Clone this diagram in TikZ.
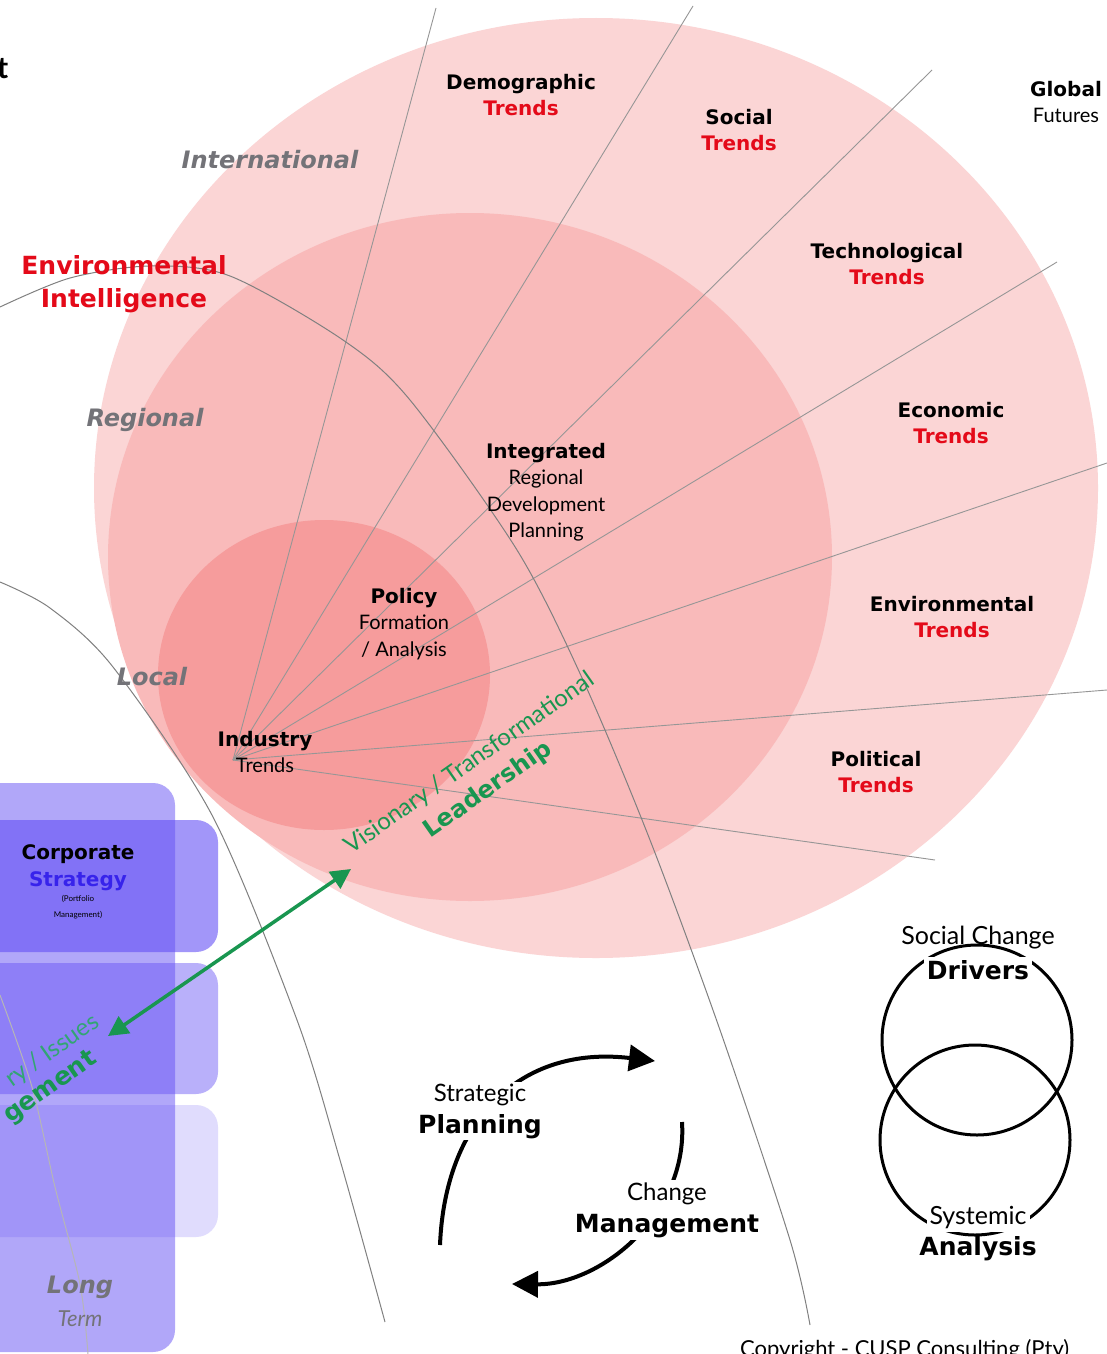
\documentclass[tikz,border=0pt]{standalone}
\usepackage{fontspec}
\setmainfont{Lato}
\newfontfamily\hf{DejaVu Sans}[BoldFont={DejaVu Sans Bold}, ItalicFont={DejaVu Sans Oblique}, BoldItalicFont={DejaVu Sans Bold Oblique}]
\newcommand\hbold[2]{{\fontsize{#1}{26.5}\selectfont\hf\bfseries #2}}
\usetikzlibrary{arrows.meta}
\definecolor{ringA}{RGB}{251,213,213}
\definecolor{ringB}{RGB}{249,186,186}
\definecolor{ringC}{RGB}{246,156,156}
\definecolor{tred}{RGB}{228,10,25}
\definecolor{labgray}{RGB}{115,115,120}
\definecolor{lgreen}{RGB}{25,150,80}
\definecolor{tgreen}{RGB}{50,165,115}
\definecolor{boxblue}{RGB}{100,80,245}
\definecolor{sblue}{RGB}{55,35,235}
\definecolor{rayc}{RGB}{150,150,150}
\begin{document}
\begin{tikzpicture}[x=1pt,y=-1pt,
  ray/.style={draw=rayc, line width=0.9pt},
  arcl/.style={draw=rayc!85!black, line width=1pt},
  hd/.style={font=\hf\fontsize{20}{26.5}\selectfont\bfseries, align=center, inner sep=0pt},
  rg/.style={font=\fontsize{20}{26.5}\selectfont, align=center, inner sep=0pt},
  lab/.style={font=\hf\fontsize{24}{30}\selectfont\bfseries\itshape, text=labgray, inner sep=0pt},
  big/.style={font=\fontsize{24}{32}\selectfont, align=center, fill=white, inner sep=2pt},
  cyc/.style={draw=black, line width=4pt, -{Triangle[length=26pt,width=26pt]}},
  venn/.style={draw=black, line width=3pt},
  gtext/.style={rotate=35, text=lgreen, inner sep=0pt}
]
\useasboundingbox (0,0) rectangle (1107,1354);
\fill[white] (0,0) rectangle (1107,1354);
% rings
\fill[ringA] (596,488) ellipse [x radius=502, y radius=470];
\fill[ringB] (470,557) ellipse [x radius=362, y radius=344];
\fill[ringC] (324,675) ellipse [x radius=166, y radius=155];
% rays
\coordinate (o) at (233,760);
\coordinate (r1) at (436,8);
\coordinate (r2) at (693,6);
\coordinate (r3) at (932,70);
\coordinate (r4) at (1057,262);
\coordinate (r5) at (1107,463);
\coordinate (r6) at (1107,690);
\coordinate (r7) at (935,860);
\foreach \r in {r1,r2,r3,r4,r5,r6,r7} \draw[ray] (o) -- (\r);
% arcs
\draw[arcl] plot[smooth] coordinates {(0,307) (70,278) (150,266) (230,276) (343,340) (410,400) (517,550) (583,680) (650,840) (720,1030) (790,1240) (810,1325)};
\draw[arcl] plot[smooth] coordinates {(0,582) (50,608) (113,667) (213,817) (297,1020) (340,1160) (385,1322)};
% blue boxes
\fill[boxblue, fill opacity=0.5, rounded corners=22pt] (-40,783) rectangle (175,1352);
\fill[boxblue, fill opacity=0.6, rounded corners=22pt] (-40,820) rectangle (218,952);
\fill[boxblue, fill opacity=0.45, rounded corners=22pt] (-40,963) rectangle (218,1094);
\fill[boxblue, fill opacity=0.2, rounded corners=22pt] (-40,1105) rectangle (218,1237);
\draw[rayc!70, line width=1pt] plot[smooth] coordinates {(0,995) (32,1087) (55,1187) (80,1284) (88,1354)};
% green arrow
\coordinate (ga) at (108,1036);
\coordinate (gb) at (351,869);
\draw[lgreen, line width=3.5pt, {Triangle[length=20pt,width=20pt]}-{Triangle[length=20pt,width=20pt]}] (ga) -- (gb);
% title fragment
\node[font=\fontsize{30}{30}\selectfont\bfseries, anchor=base west, inner sep=0pt] (tt) at (-3,78) {t};
% trend labels
\node[hd] (dem) at (521,95) {Demographic\\\textcolor{tred}{Trends}};
\node[hd] (soc) at (739,130) {Social\\\textcolor{tred}{Trends}};
\node[hd] (tec) at (887,264) {Technological\\\textcolor{tred}{Trends}};
\node[hd] (eco) at (951,423) {Economic\\\textcolor{tred}{Trends}};
\node[hd] (env) at (952,617) {Environmental\\\textcolor{tred}{Trends}};
\node[hd] (pol) at (876,772) {Political\\\textcolor{tred}{Trends}};
\node[rg] (glo) at (1066,102) {\hbold{20}{Global}\\Futures};
% level labels
\node[lab] (intl) at (270,160) {International};
\node[lab] (regl) at (145,420) {Regional};
\node[lab] (locl) at (152,677) {Local};
\node[font=\hf\fontsize{25}{33}\selectfont\bfseries, text=tred, align=center, inner sep=0pt] (ei) at (124,284) {Environmental\\Intelligence};
% inner labels
\node[rg] (irdp) at (546,492) {\hbold{20}{Integrated}\\Regional\\Development\\Planning};
\node[rg] (pfa) at (404,624) {\hbold{20}{Policy}\\Formation\\/ Analysis};
\node[rg] (ind) at (265,752) {\hbold{20}{Industry}\\Trends};
% leadership
\node[gtext, align=center, font=\fontsize{24}{32}\selectfont] (vis) at (479,777) {Visionary / Transformational\\{\hf\bfseries\fontsize{24}{32}\selectfont Leadership}};
\node[gtext, text=tgreen, anchor=east, font=\fontsize{24}{26}\selectfont] (iss) at (97,1020) {ry / Issues};
\node[gtext, anchor=east, font=\hf\fontsize{25}{30}\selectfont\bfseries] (mgt) at (95,1057) {gement};
% corporate
\node[font=\hf\fontsize{20}{27}\selectfont\bfseries, align=center, inner sep=0pt] (cs) at (78,868) {Corporate\\\textcolor{sblue}{Strategy}};
\node[font=\fontsize{8}{16}\selectfont, align=center, inner sep=0pt] (pm) at (78,907) {(Portfolio\\Management)};
\node[font=\fontsize{22}{33}\selectfont\itshape, text=labgray, align=center, inner sep=0pt] (lt) at (80,1301) {{\hf\bfseries\itshape\fontsize{24}{33}\selectfont Long}\\Term};
% cycle
\coordinate (c1s) at (440,1245);
\coordinate (c1e) at (655,1061);
\coordinate (c2s) at (682,1122);
\coordinate (c2e) at (512,1284);
\draw[cyc] (c1s) .. controls (445,1120) and (520,1045) .. (c1e);
\draw[cyc] (c2s) .. controls (688,1215) and (600,1285) .. (c2e);
\node[big] (sp) at (480,1111) {Strategic\\{\hf\bfseries\fontsize{25}{32}\selectfont Planning}};
\node[big] (cm) at (667,1210) {Change\\{\hf\bfseries\fontsize{25}{32}\selectfont Management}};
% venn
\draw[venn] (977,1040) circle [radius=95];
\draw[venn] (975,1140) circle [radius=95];
\node[font=\fontsize{25}{28}\selectfont, inner sep=1pt] (scd) at (978,938) {Social Change};
\node[font=\hf\fontsize{25}{28}\selectfont\bfseries, fill=white, inner sep=3pt] (drv) at (978,970) {Drivers};
\node[font=\fontsize{25}{28}\selectfont, fill=white, inner sep=3pt] (sys) at (978,1218) {Systemic};
\node[font=\hf\fontsize{25}{28}\selectfont\bfseries, inner sep=1pt] (ana) at (978,1249) {Analysis};
% copyright
\node[anchor=base west, font=\fontsize{22}{22}\selectfont, inner sep=0pt] (cp) at (740,1356) {Copyright - CUSP Consulting (Pty)};
\end{tikzpicture}
\end{document}
